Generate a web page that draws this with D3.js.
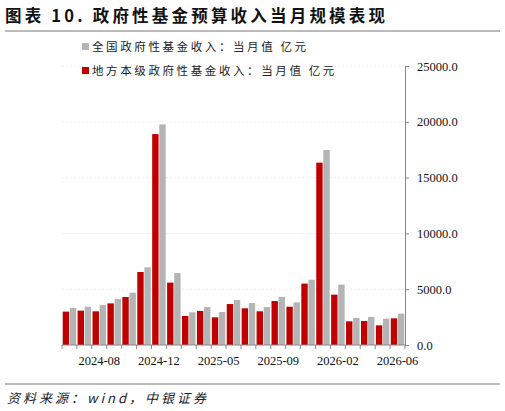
<!DOCTYPE html>
<html><head><meta charset="utf-8">
<script src="https://cdn.jsdelivr.net/npm/d3@7"></script>
<style>body{margin:0;background:#fff}</style>
</head><body><svg id="c" width="505" height="411"></svg>
<script>
var months = ['2024-06','2024-07','2024-08','2024-09','2024-10','2024-11','2024-12','2025-01','2025-03','2025-04','2025-05','2025-06','2025-07','2025-08','2025-09','2025-10','2025-11','2025-12','2026-02','2026-03','2026-04','2026-05','2026-06'];
var shownLabels = ['2024-08','2024-12','2025-05','2025-09','2026-02','2026-06'];
var localVals = [2990,3080,3020,3730,4300,6540,18900,5590,2600,3050,2480,3670,3290,3020,3940,3430,5500,16340,4510,2120,2150,1760,2390];
var nationalVals = [3320,3430,3580,4120,4690,6960,19770,6450,2930,3400,2960,4030,3760,3400,4300,3820,5850,17470,5410,2420,2510,2360,2810];
var yTicks = [0,5000,10000,15000,20000,25000];

var svg = d3.select('#c');
var serif = '"Liberation Serif","Noto Sans CJK SC",serif';
var cjk = '"Noto Sans CJK SC",sans-serif';

svg.append('text').attr('x',5).attr('y',22).attr('font-family',cjk).attr('font-weight','bold')
  .attr('font-size',16.5).attr('letter-spacing',3.2).attr('fill','#111').text('图表 10. 政府性基金预算收入当月规模表现');
svg.append('line').attr('x1',5).attr('x2',500).attr('y1',31).attr('y2',31).attr('stroke','#777').attr('stroke-width',1.2);
svg.append('line').attr('x1',5).attr('x2',500).attr('y1',384).attr('y2',384).attr('stroke','#777').attr('stroke-width',1.2);
svg.append('text').attr('x',7).attr('y',403).attr('font-family',cjk).attr('font-style','italic')
  .attr('font-size',13).attr('letter-spacing',3).attr('fill','#222').text('资料来源：wind，中银证券');

var x = d3.scaleBand().domain(months).range([62,405]).paddingInner(0).paddingOuter(0);
var y = d3.scaleLinear().domain([0,25000]).range([345,66]);
var sub = d3.scaleBand().domain(['local','national']).range([0,x.bandwidth()]).paddingInner(0.1).paddingOuter(0.1);

// light grid
svg.append('g').selectAll('line').data(yTicks.slice(1)).join('line')
  .attr('x1',62).attr('x2',405).attr('y1',d=>y(d)).attr('y2',d=>y(d))
  .attr('stroke','#eee').attr('stroke-dasharray','2,2');

var g = svg.append('g');
g.selectAll('.r').data(localVals).join('rect')
  .attr('x',(d,i)=>x(months[i])+sub('local')).attr('width',sub.bandwidth())
  .attr('y',d=>y(d)).attr('height',d=>345-y(d)).attr('fill','#c00000');
g.selectAll('.g').data(nationalVals).join('rect')
  .attr('x',(d,i)=>x(months[i])+sub('national')).attr('width',sub.bandwidth())
  .attr('y',d=>y(d)).attr('height',d=>345-y(d)).attr('fill','#b4b4b4');

// right axis
var ya = svg.append('g').attr('transform','translate(405,0)')
  .call(d3.axisRight(y).tickValues(yTicks).tickSize(4).tickPadding(8).tickFormat(d3.format('.1f')));
ya.select('.domain').attr('stroke','#888');
ya.selectAll('.tick line').attr('stroke','#888');
ya.selectAll('text').attr('font-family',serif).attr('font-size',12.5).attr('fill','#111');

// bottom axis
var xa = svg.append('g').attr('transform','translate(0,345)');
xa.append('line').attr('x1',62).attr('x2',405).attr('stroke','#888');
xa.selectAll('.t').data(months.concat(['end'])).join('line')
  .attr('x1',(d,i)=>62+i*x.step()).attr('x2',(d,i)=>62+i*x.step()).attr('y2',4).attr('stroke','#888');
xa.selectAll('text').data(months.filter(m=>shownLabels.includes(m))).join('text')
  .attr('x',d=>x(d)+x.bandwidth()/2).attr('y',20).attr('text-anchor','middle')
  .attr('font-family',serif).attr('font-size',12.5).attr('fill','#111').text(d=>d);

// legend
var legend = [['全国政府性基金收入：当月值 亿元','#b4b4b4'],['地方本级政府性基金收入：当月值 亿元','#c00000']];
var lg = svg.selectAll('.lg').data(legend).join('g').attr('transform',(d,i)=>'translate(82,'+(47+i*24)+')');
lg.append('rect').attr('x',0).attr('y',-4).attr('width',7).attr('height',7).attr('fill',d=>d[1]);
lg.append('text').attr('x',10).attr('y',4).attr('font-family',cjk).attr('font-size',11.5)
  .attr('letter-spacing',2.6).attr('fill','#222').text(d=>d[0]);
</script></body></html>
